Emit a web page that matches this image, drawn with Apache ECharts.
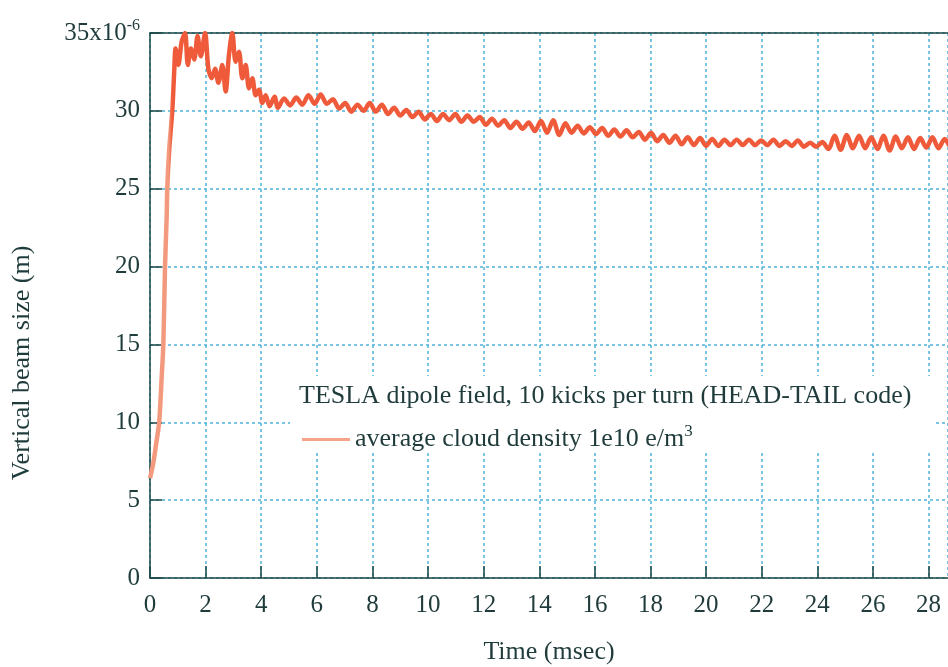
<!DOCTYPE html>
<html>
<head>
<meta charset="utf-8">
<script src="https://cdn.jsdelivr.net/npm/echarts@6/dist/echarts.min.js"></script>
<style>
  html, body { margin: 0; padding: 0; background: #ffffff; }
  #chart { width: 948px; height: 667px; }
</style>
</head>
<body>
<div id="chart"></div>
<script>
// Time axis (msec)
const timeMs = [
  0.00, 0.12, 0.22, 0.33, 0.42, 0.48, 0.54, 0.60, 0.62, 0.69, 0.80, 0.87,
  0.92, 1.02, 1.14, 1.26, 1.36, 1.47, 1.59, 1.71, 1.83, 1.98, 2.10, 2.22,
  2.34, 2.46, 2.60, 2.72, 2.84, 2.96, 3.08, 3.20, 3.32, 3.44, 3.56, 3.68,
  3.80, 3.92, 4.04, 4.16, 4.30, 4.48, 4.60,
  4.82, 5.04, 5.26, 5.48, 5.70, 5.92, 6.14, 6.36, 6.58, 6.80, 7.02, 7.24,
  7.46, 7.68, 7.90, 8.12, 8.34, 8.56, 8.78, 9.00, 9.22, 9.44, 9.66, 9.88,
  10.10, 10.32, 10.54, 10.76, 10.98, 11.20, 11.42, 11.64, 11.86, 12.08, 12.30, 12.52,
  12.74, 12.96, 13.18, 13.40, 13.62, 13.84, 14.06, 14.28, 14.50, 14.72, 14.94, 15.16,
  15.38, 15.60, 15.82, 16.04, 16.26, 16.48, 16.70, 16.92, 17.14, 17.36, 17.58, 17.80,
  18.02, 18.24, 18.46, 18.68, 18.90, 19.12, 19.34, 19.56, 19.78, 20.00, 20.22, 20.44,
  20.66, 20.88, 21.10, 21.32, 21.54, 21.76, 21.98, 22.20, 22.42, 22.64, 22.86, 23.08,
  23.30, 23.52, 23.74, 23.96, 24.18, 24.40, 24.62, 24.84, 25.06, 25.28, 25.50, 25.72,
  25.94, 26.16, 26.38, 26.60, 26.82, 27.04, 27.26, 27.48, 27.70, 27.92, 28.14, 28.36,
  28.58, 28.80, 29.02, 29.24
];

// Vertical beam size (units of 1e-6 m)
const beamSize = [
  6.4, 7.4, 8.6, 10.0, 12.9, 15.0, 20.0, 23.2, 25.0, 27.5, 30.0, 32.5,
  34.0, 32.95, 34.45, 35.0, 32.95, 34.0, 33.3, 34.8, 33.5, 35.0, 32.7, 32.1,
  32.7, 31.8, 32.95, 31.25, 33.6, 35.0, 33.15, 33.8, 32.1, 32.95, 31.45, 32.1,
  31.0, 31.35, 30.5, 31.0, 30.3, 30.9, 30.2,
  30.8, 30.35, 30.85, 30.4, 31.0, 30.45, 31.05, 30.45, 30.75, 30.15, 30.5, 29.95,
  30.4, 30.0, 30.5, 29.95, 30.4, 29.8, 30.2, 29.7, 30.05, 29.6, 29.95, 29.45,
  29.8, 29.35, 29.8, 29.4, 29.8, 29.3, 29.7, 29.3, 29.6, 29.1, 29.5, 29.05,
  29.4, 28.9, 29.3, 28.85, 29.25, 28.7, 29.35, 28.6, 29.4, 28.45, 29.2, 28.6,
  29.05, 28.55, 28.95, 28.5, 28.9, 28.4, 28.8, 28.35, 28.75, 28.3, 28.65, 28.15,
  28.6, 28.05, 28.45, 27.95, 28.4, 27.85, 28.3, 27.8, 28.25, 27.75, 28.2, 27.75,
  28.15, 27.8, 28.15, 27.8, 28.15, 27.8, 28.1, 27.8, 28.15, 27.75, 28.05, 27.75,
  28.1, 27.7, 27.95, 27.7, 28.0, 27.55, 28.4, 27.5, 28.45, 27.6, 28.4, 27.6,
  28.3, 27.55, 28.4, 27.45, 28.35, 27.6, 28.3, 27.55, 28.25, 27.65, 28.3, 27.6,
  28.2, 27.7, 28.2, 27.75
];

// Axis ticks
const xTicks = { min: 0, max: 28.7, interval: 2 };
const yTicks = { min: 0, max: 35, interval: 5 };

const seriesName = 'average cloud density 1e10 e/m3';
const boxTitle = 'TESLA dipole field, 10 kicks per turn (HEAD-TAIL code)';
const xName = 'Time (msec)';
const yName = 'Vertical beam size (m)';

const FONT = '"Liberation Serif", "DejaVu Serif", serif';
const INK = '#1f3b3b';
const AXIS = '#1b4646';
const GRID = '#4fb2d8';
const CURVE = '#ef5a3a';
const CURVE_LIGHT = '#f39a7e';

// The steep initial rise is drawn in a lighter tint (first ~3% of the trace width)
const curveColor = new echarts.graphic.LinearGradient(0, 0, 1, 0, [
  { offset: 0, color: CURVE_LIGHT },
  { offset: 0.026, color: CURVE_LIGHT },
  { offset: 0.03, color: CURVE },
  { offset: 1, color: CURVE }
]);

const chart = echarts.init(document.getElementById('chart'), null, { renderer: 'canvas' });

chart.setOption({
  backgroundColor: '#ffffff',
  animation: false,
  grid: { left: 150, top: 33, bottom: 89, right: 0, show: false },
  title: {
    text: boxTitle,
    left: 294, top: 378,
    textStyle: { fontFamily: FONT, fontSize: 26, fontWeight: 'normal', color: INK }
  },
  legend: {
    data: [{ name: seriesName, icon: 'rect' }],
    left: 297, top: 418,
    itemWidth: 48, itemHeight: 3, itemGap: 8,
    itemStyle: { color: '#f5a486' },
    formatter: () => 'average cloud density 1e10 e/m{sup|3}',
    textStyle: {
      fontFamily: FONT, fontSize: 26, color: INK,
      rich: { sup: { fontFamily: FONT, fontSize: 17, color: INK, verticalAlign: 'top', padding: [0, 0, 16, 0] } }
    }
  },
  graphic: [
    {
      type: 'rect', z: 1, silent: true,
      shape: { x: 290, y: 376, width: 644, height: 74 },
      style: { fill: '#ffffff' }
    },
    {
      type: 'text', z: 10, silent: true,
      x: 22, y: 363, rotation: Math.PI / 2,
      style: { text: yName, fontFamily: FONT, fontSize: 26, fill: INK, align: 'center', verticalAlign: 'middle' }
    },
    {
      type: 'text', z: 10, silent: true,
      x: 549, y: 652,
      style: { text: xName, fontFamily: FONT, fontSize: 26, fill: INK, align: 'center', verticalAlign: 'middle' }
    }
  ],
  xAxis: [
    {
      type: 'value',
      min: xTicks.min, max: xTicks.max, interval: xTicks.interval,
      axisLine: { show: true, onZero: false, lineStyle: { color: AXIS, width: 1.5 } },
      axisTick: { show: true, inside: true, length: 12, lineStyle: { color: AXIS, width: 1.5 } },
      axisLabel: { fontFamily: FONT, fontSize: 25, color: INK, margin: 15, showMaxLabel: false },
      splitLine: { show: true, lineStyle: { color: GRID, width: 1.5, type: [3, 3] } }
    },
    {
      type: 'value', position: 'top',
      min: xTicks.min, max: xTicks.max, interval: xTicks.interval,
      axisLine: { show: true, onZero: false, lineStyle: { color: AXIS, width: 1.5 } },
      axisTick: { show: false }, axisLabel: { show: false }, splitLine: { show: false }
    }
  ],
  yAxis: {
    type: 'value',
    min: yTicks.min, max: yTicks.max, interval: yTicks.interval,
    axisLine: { show: true, lineStyle: { color: AXIS, width: 1.5 } },
    axisTick: { show: true, inside: true, length: 12, lineStyle: { color: AXIS, width: 1.5 } },
    axisLabel: {
      fontFamily: FONT, fontSize: 25, color: INK, margin: 10,
      formatter: v => v === 35 ? '35x10{sup|-6}' : String(v),
      rich: { sup: { fontFamily: FONT, fontSize: 16, color: INK, verticalAlign: 'top', padding: [0, 0, 14, 0] } }
    },
    splitLine: { show: true, lineStyle: { color: GRID, width: 1.5, type: [3, 3] } }
  },
  series: [{
    name: seriesName,
    type: 'line',
    xAxisIndex: 0,
    data: timeMs.map((t, i) => [t, beamSize[i]]),
    showSymbol: false,
    smooth: 0.3,
    lineStyle: { width: 4.5, color: curveColor },
    itemStyle: { color: CURVE },
    z: 3
  }]
});
</script>
</body>
</html>
